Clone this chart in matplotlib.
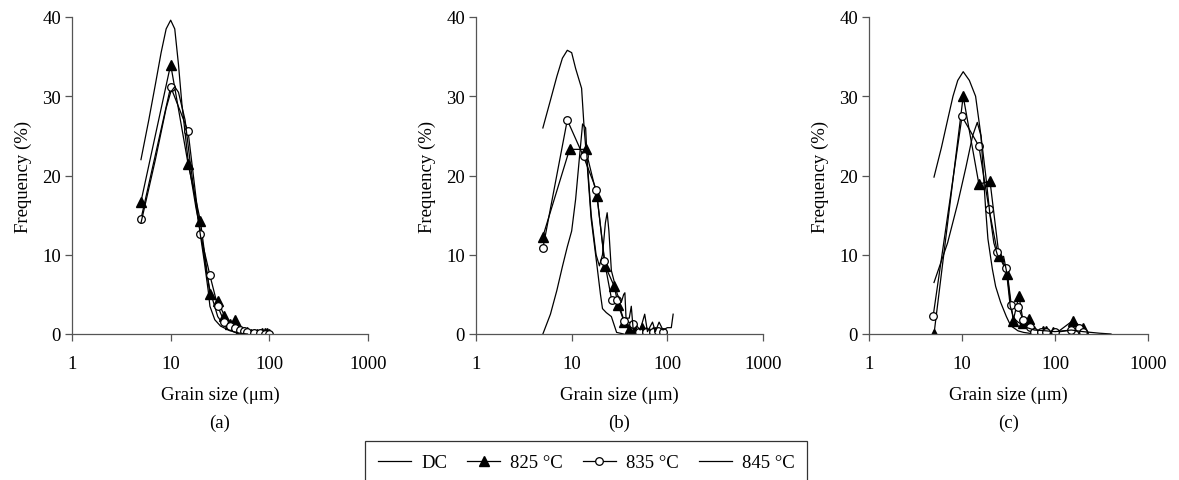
import matplotlib.pyplot as plt
from matplotlib.lines import Line2D

plt.rcParams['font.family'] = ['Liberation Serif', 'DejaVu Serif']
plt.rcParams['font.size'] = 13.5

# panel (a)
a_dc_x = [5, 6, 7, 8, 9, 10, 11, 12, 13, 15, 18, 20, 23, 25, 30, 35, 40, 50, 60, 80, 100]
a_dc_y = [22, 27, 31.5, 35.5, 38.5, 39.6, 38.5, 34, 29, 22, 16, 13, 8, 5.5, 2.2, 1, 0.5, 0.2, 0.1, 0, 0]
a_825_x = [5, 10, 15, 20, 25, 30, 35, 40, 45, 50, 55, 60, 65, 70, 75, 80, 85, 90, 95, 100]
a_825_y = [16.7, 34, 21.5, 14.3, 5, 4.2, 2.3, 1.2, 1.8, 0.5, 0.3, 0.2, 0, 0, 0, 0, 0.1, 0.1, 0.1, 0]
a_835_x = [5, 10, 15, 20, 25, 30, 35, 40, 45, 50, 55, 60, 70, 80, 90, 100]
a_835_y = [14.5, 31.2, 25.6, 12.6, 7.4, 3.5, 1.5, 1, 0.7, 0.5, 0.4, 0.3, 0.1, 0.1, 0, 0]
a_845_x = [5, 7, 9, 10, 11, 12, 14, 16, 18, 20, 22, 24, 25, 28, 32, 40, 50, 60]
a_845_y = [14, 22, 28.5, 30.5, 31.2, 30.5, 27, 21, 16.5, 12.5, 9, 5.5, 3.5, 1.8, 1, 0.4, 0.1, 0]

# panel (b)
b_dc_x = [5, 6, 7, 8, 9, 10, 11, 12.7, 13.5, 14.6, 16, 18.4, 20, 21, 23, 26, 29.5, 35]
b_dc_y = [26, 29.5, 32.5, 34.8, 35.8, 35.5, 33.5, 31, 26, 21, 14.5, 8.6, 5, 3.2, 2.7, 2.2, 0.2, 0]
b_825_x = [5, 9.5, 14, 18.4, 22.4, 27.9, 30.6, 35.3, 40, 45, 55, 60, 65, 70, 75, 80]
b_825_y = [12.3, 23.3, 23.3, 17.4, 8.6, 6, 3.7, 1.55, 0.5, 0.3, 0.7, 0.2, 0.1, 0.3, 0.2, 0.1]
b_835_x = [5, 9, 13.3, 18.1, 22, 26.2, 30, 35.3, 44, 50, 60, 70, 80, 90]
b_835_y = [10.8, 27, 22.4, 18.2, 9.2, 4.3, 4.3, 1.7, 1.3, 0.3, 0.2, 0.2, 0.4, 0.2]
b_845_x = [5, 6, 7, 8, 9, 10, 11, 12, 13, 14, 14.5, 16, 18, 19.5, 21, 22.5, 23.5, 24.5, 26, 28,
           30, 33, 35, 36, 37, 40, 42, 44, 48, 52, 58, 62, 70, 75, 82, 90, 100, 110, 115]
b_845_y = [0, 2.5, 5.5, 8.5, 11, 13, 17, 22, 26.5, 26, 22, 15, 10, 8.6, 10, 14, 15.3, 13, 8, 6.5,
           5, 4, 5, 5.2, 2, 2, 3.5, 0.5, 1, 0.5, 2.5, 0.3, 1.5, 0.3, 1.5, 0.5, 0.8, 0.8, 2.5]

# panel (c)
c_dc_x = [5, 6, 7, 8, 9, 10.3, 12, 14, 16, 17.9, 19, 21.2, 23, 26, 30, 33.4, 40, 46, 60]
c_dc_y = [19.8, 23.5, 27, 30, 32, 33.1, 32, 30, 25, 16, 12, 8.2, 6, 4, 2.2, 1.05, 0.4, 0.2, 0]
c_825_x = [5, 10.3, 15.2, 20, 25, 30.8, 35.5, 41, 45.7, 52, 60, 74, 80, 95, 100, 156, 200]
c_825_y = [0, 30, 18.9, 19.3, 9.9, 7.6, 1.7, 4.8, 1.4, 1.9, 0.4, 0.4, 0.4, 0.2, 0, 1.7, 0.7]
c_835_x = [4.9, 10, 15.2, 19.5, 24, 30, 33.4, 40, 45.5, 53.7, 60, 70, 80, 100, 150, 180, 200]
c_835_y = [2.3, 27.45, 23.7, 15.8, 10.3, 8.3, 3.7, 3.4, 1.8, 0.9, 0.3, 0.2, 0.3, 0.2, 0.5, 0.8, 0.3]
c_845_x = [5, 7, 9, 11, 13, 14.6, 16, 18, 20, 22, 24, 26, 28, 30, 33, 36, 40, 50, 60, 80, 100, 150, 200, 300, 400]
c_845_y = [6.5, 11.5, 16.5, 21, 25, 26.7, 25, 20, 15, 11.5, 10, 9.5, 9.8, 8, 3.5, 2, 1.5, 0.8, 0.5, 0.4, 0.3, 0.5, 0.3, 0.1, 0]

panels = [
    ("(a)", a_dc_x, a_dc_y, a_825_x, a_825_y, a_835_x, a_835_y, a_845_x, a_845_y),
    ("(b)", b_dc_x, b_dc_y, b_825_x, b_825_y, b_835_x, b_835_y, b_845_x, b_845_y),
    ("(c)", c_dc_x, c_dc_y, c_825_x, c_825_y, c_835_x, c_835_y, c_845_x, c_845_y),
]
# axes boxes in pixels: left, right
boxes = [(72, 368), (476, 763), (869, 1148)]

W, H = 1179, 481
fig = plt.figure(figsize=(W / 100, H / 100), dpi=100)
ax_col = '#555555'

for (tag, dx, dy, x1, y1, x2, y2, x3, y3), (l, r) in zip(panels, boxes):
    ax = fig.add_axes([l / W, (H - 335) / H, (r - l) / W, (335 - 18) / H])
    ax.plot(dx, dy, color='k', lw=0.9)
    ax.plot(x1, y1, color='k', lw=0.9, marker='^', ms=7, mfc='k', mec='k')
    ax.plot(x2, y2, color='k', lw=0.9, marker='o', ms=5.5, mfc='white', mec='k', mew=0.9)
    ax.plot(x3, y3, color='k', lw=0.9)
    ax.set_xscale('log')
    ax.set_xlim(1, 1000)
    ax.set_ylim(0, 40)
    ax.set_xticks([1, 10, 100, 1000])
    ax.set_xticklabels(['1', '10', '100', '1000'])
    ax.minorticks_off()
    ax.set_yticks([0, 10, 20, 30, 40])
    for s in ['top', 'right']:
        ax.spines[s].set_visible(False)
    for s in ['left', 'bottom']:
        ax.spines[s].set_color(ax_col)
        ax.spines[s].set_linewidth(0.9)
    ax.tick_params(direction='out', length=5, width=0.9, color=ax_col)
    ax.tick_params(axis='x', pad=10)
    ax.tick_params(axis='y', pad=3)
    ax.set_ylabel('Frequency (%)', labelpad=7)
    ax.set_xlabel('Grain size (\u03bcm)', labelpad=10)
    fig.text((l + r) / 2 / W, (H - 423) / H, tag, ha='center', va='center')

handles = [
    Line2D([], [], color='k', lw=0.9),
    Line2D([], [], color='k', lw=0.9, marker='^', ms=7, mfc='k'),
    Line2D([], [], color='k', lw=0.9, marker='o', ms=5.5, mfc='white', mew=0.9),
    Line2D([], [], color='k', lw=0.9),
]
labels = ['DC', '825 \u00b0C', '835 \u00b0C', '845 \u00b0C']
leg = fig.legend(handles, labels, loc='upper left', ncol=4,
                 bbox_to_anchor=(365 / W, (H - 442) / H), borderaxespad=0,
                 frameon=True, fancybox=False, edgecolor='k', handlelength=1.76,
                 columnspacing=1.07, borderpad=0.7, handletextpad=0.53, fontsize=13.5)
leg.get_frame().set_linewidth(0.9)

fig.savefig('out.png', dpi=100)
